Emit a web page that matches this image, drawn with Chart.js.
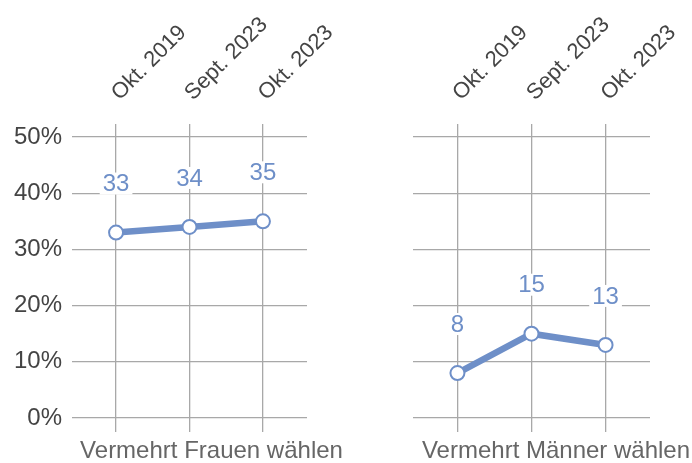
<!DOCTYPE html>
<html>
<head>
<meta charset="utf-8">
<script src="https://cdn.jsdelivr.net/npm/chart.js@4/dist/chart.umd.min.js"></script>
<style>
  html, body { margin: 0; padding: 0; background: #fff; overflow: hidden; }
  body { width: 692px; height: 463px; position: relative; }
  .panel { position: absolute; top: 0; height: 463px; }
  #left { left: 0; width: 423px; }
  #right { left: 413px; width: 286px; }
</style>
</head>
<body>
<div class="panel" id="left"><canvas id="c1"></canvas></div>
<div class="panel" id="right"><canvas id="c2"></canvas></div>
<script>
var categories = ["Okt. 2019", "Sept. 2023", "Okt. 2023"];
var frauen = [33, 34, 35];
var maenner = [8, 15, 13];
var yTicks = [0, 10, 20, 30, 40, 50];

var blue = "#6e8fc8";
var gridColor = "#a8a8a8";
var font = "'Liberation Sans', Arial, sans-serif";

Chart.defaults.font.family = font;
Chart.defaults.animation = false;

// draws the value above each point, on a white box
var valueLabels = {
  id: "valueLabels",
  afterDatasetsDraw: function(chart) {
    var ctx = chart.ctx;
    var meta = chart.getDatasetMeta(0);
    var data = chart.data.datasets[0].data;
    ctx.save();
    ctx.font = "24px " + font;
    ctx.textAlign = "center";
    ctx.textBaseline = "middle";
    meta.data.forEach(function(pt, i) {
      var txt = String(data[i].y);
      var w = ctx.measureText(txt).width;
      var y = pt.y - 49;
      ctx.fillStyle = "#fff";
      ctx.fillRect(pt.x - w / 2 - 3, y - 11, w + 6, 22);
      ctx.fillStyle = blue;
      ctx.fillText(txt, pt.x, y + 1);
    });
    ctx.restore();
  }
};

// fixed axis sizes, no extra room for overhanging labels
function fixSize(h, w) {
  return function(axis) {
    if (h != null) axis.height = h;
    if (w != null) axis.width = w;
    axis.paddingLeft = 0;
    axis.paddingRight = 0;
    axis.paddingTop = 0;
    axis.paddingBottom = 0;
  };
}

function catTicks(axis) {
  axis.ticks = categories.map(function(c, i) { return {value: i}; });
}

function makeChart(id, values, caption, leftWidth, rightWidth, showY) {
  return new Chart(document.getElementById(id), {
    type: "line",
    data: {
      datasets: [{
        data: values.map(function(v, i) { return {x: i, y: v}; }),
        borderColor: blue,
        borderWidth: 6.5,
        pointRadius: 7,
        pointBorderWidth: 2,
        pointBackgroundColor: "#fff",
        pointBorderColor: blue,
        tension: 0,
        clip: false
      }]
    },
    options: {
      responsive: true,
      maintainAspectRatio: false,
      layout: { padding: 0, autoPadding: false },
      plugins: {
        legend: { display: false },
        tooltip: { enabled: false },
        title: {
          display: true,
          position: "bottom",
          text: caption,
          color: "#666",
          font: { size: 24, weight: "normal", lineHeight: 1 },
          padding: 0
        }
      },
      scales: {
        x: {
          type: "linear",
          position: "top",
          min: -0.6,
          max: 2.6,
          afterBuildTicks: catTicks,
          afterFit: fixSize(137, null),
          grid: { color: gridColor, lineWidth: 1.3, tickLength: 13 },
          border: { display: false },
          ticks: {
            minRotation: 45,
            maxRotation: 45,
            padding: 18,
            labelOffset: 18,
            color: "#444",
            font: { size: 22 },
            callback: function(v) { return categories[v]; }
          }
        },
        xb: {
          type: "linear",
          position: "bottom",
          min: -0.6,
          max: 2.6,
          afterBuildTicks: catTicks,
          afterFit: fixSize(21, null),
          grid: { color: gridColor, lineWidth: 1.3, tickLength: 14, drawOnChartArea: false },
          border: { display: false },
          ticks: { display: false }
        },
        y: {
          position: "left",
          min: 0,
          max: 50,
          afterBuildTicks: function(axis) {
            axis.ticks = yTicks.map(function(v) { return {value: v}; });
          },
          afterFit: fixSize(null, leftWidth),
          grid: { color: gridColor, lineWidth: 1.3, drawTicks: false },
          border: { display: false },
          ticks: {
            display: showY,
            padding: 10,
            color: "#444",
            font: { size: 24 },
            callback: function(v) { return v + "%"; }
          }
        },
        yr: {
          position: "right",
          min: 0,
          max: 50,
          afterFit: fixSize(null, rightWidth),
          grid: { display: false },
          border: { display: false },
          ticks: { display: false }
        }
      }
    },
    plugins: [valueLabels]
  });
}

makeChart("c1", frauen, "Vermehrt Frauen wählen", 72, 116, true);
makeChart("c2", maenner, "Vermehrt Männer wählen", 0, 49, false);
</script>
</body>
</html>
